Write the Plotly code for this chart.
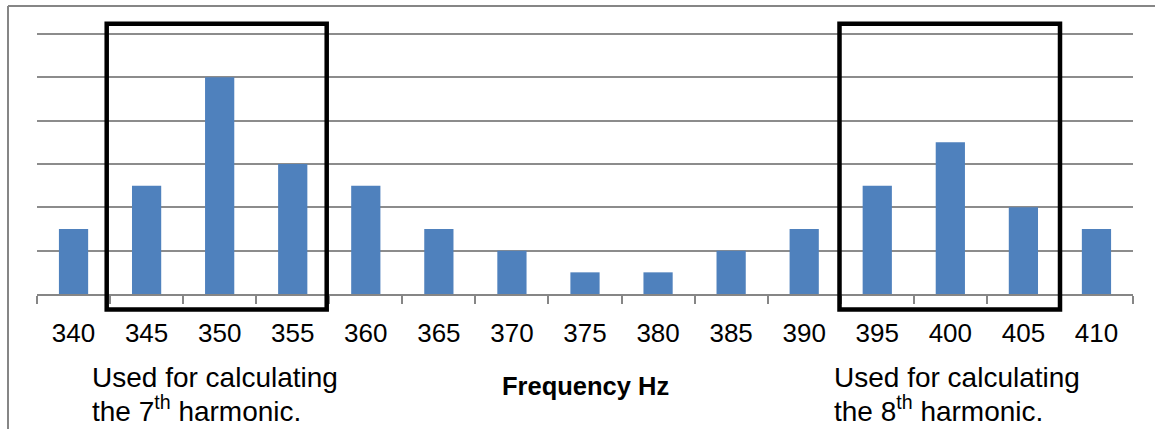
import plotly.graph_objects as go

frequencies = ["340", "345", "350", "355", "360", "365", "370", "375",
               "380", "385", "390", "395", "400", "405", "410"]
amplitudes = [1.5, 2.5, 5, 3, 2.5, 1.5, 1, 0.5, 0.5, 1, 1.5, 2.5, 3.5, 2, 1.5]

FONT = "Liberation Sans, Arial, sans-serif"
W, H = 1155, 429
L, R, T, B = 37, 22, 30, 135
PW, PH = W - L - R, H - T - B
UNIT = 43.33  # pixels per y unit in the reference
Y_TOP = PH / UNIT


def px_x(x):
    return (x - L) / PW


def px_y(y):
    return (H - B - y) / PH


fig = go.Figure(go.Bar(
    x=frequencies, y=amplitudes,
    marker=dict(color="#4F81BD", line=dict(width=0)),
))

shapes = []
# outer chart frame (gray)
shapes.append(dict(type="line", xref="paper", yref="paper",
                   x0=px_x(8), x1=px_x(8), y0=px_y(6), y1=px_y(480),
                   line=dict(color="#868686", width=2)))
shapes.append(dict(type="line", xref="paper", yref="paper",
                   x0=px_x(8), x1=px_x(1200), y0=px_y(6), y1=px_y(6),
                   line=dict(color="#868686", width=2)))
# highlight boxes
for x0, x1 in [(106.7, 326.7), (839.5, 1060)]:
    shapes.append(dict(type="rect", xref="paper", yref="paper",
                       x0=px_x(x0), x1=px_x(x1), y0=px_y(309.5), y1=px_y(23.8),
                       line=dict(color="black", width=4.5)))

annotations = []
for xl, nth in [(90, "7"), (832, "8")]:
    annotations.append(dict(text="Used for calculating", xref="paper", yref="paper",
                            x=px_x(xl), y=px_y(377), xanchor="left", yanchor="middle",
                            showarrow=False, font=dict(family=FONT, size=28, color="black")))
    annotations.append(dict(text=f"the {nth}<sup>th</sup> harmonic.", xref="paper", yref="paper",
                            x=px_x(xl), y=px_y(409), xanchor="left", yanchor="middle",
                            showarrow=False, font=dict(family=FONT, size=28, color="black")))
annotations.append(dict(text="<b>Frequency Hz</b>", xref="paper", yref="paper",
                        x=0.5, y=px_y(386), xanchor="center", yanchor="middle",
                        showarrow=False, font=dict(family=FONT, size=25.5, color="black")))

fig.update_layout(
    width=W, height=H,
    margin=dict(l=L, r=R, t=T, b=B, pad=0),
    paper_bgcolor="white", plot_bgcolor="white",
    bargap=0.6,
    showlegend=False,
    font=dict(family=FONT, color="black"),
    shapes=shapes,
    annotations=annotations,
    xaxis=dict(
        type="category", tickson="boundaries", ticks="outside", ticklen=8,
        tickcolor="#868686", tickwidth=1.5,
        showline=True, linecolor="#868686", linewidth=1.5,
        showgrid=False, tickfont=dict(family=FONT, size=26, color="black"),
        ticklabelstandoff=15,
    ),
    yaxis=dict(
        range=[0, Y_TOP], dtick=1, showticklabels=False, showgrid=True,
        gridcolor="#8c8c8c", gridwidth=1.5, zeroline=False, showline=False,
        ticks="",
    ),
)

fig.write_html("out.html")
